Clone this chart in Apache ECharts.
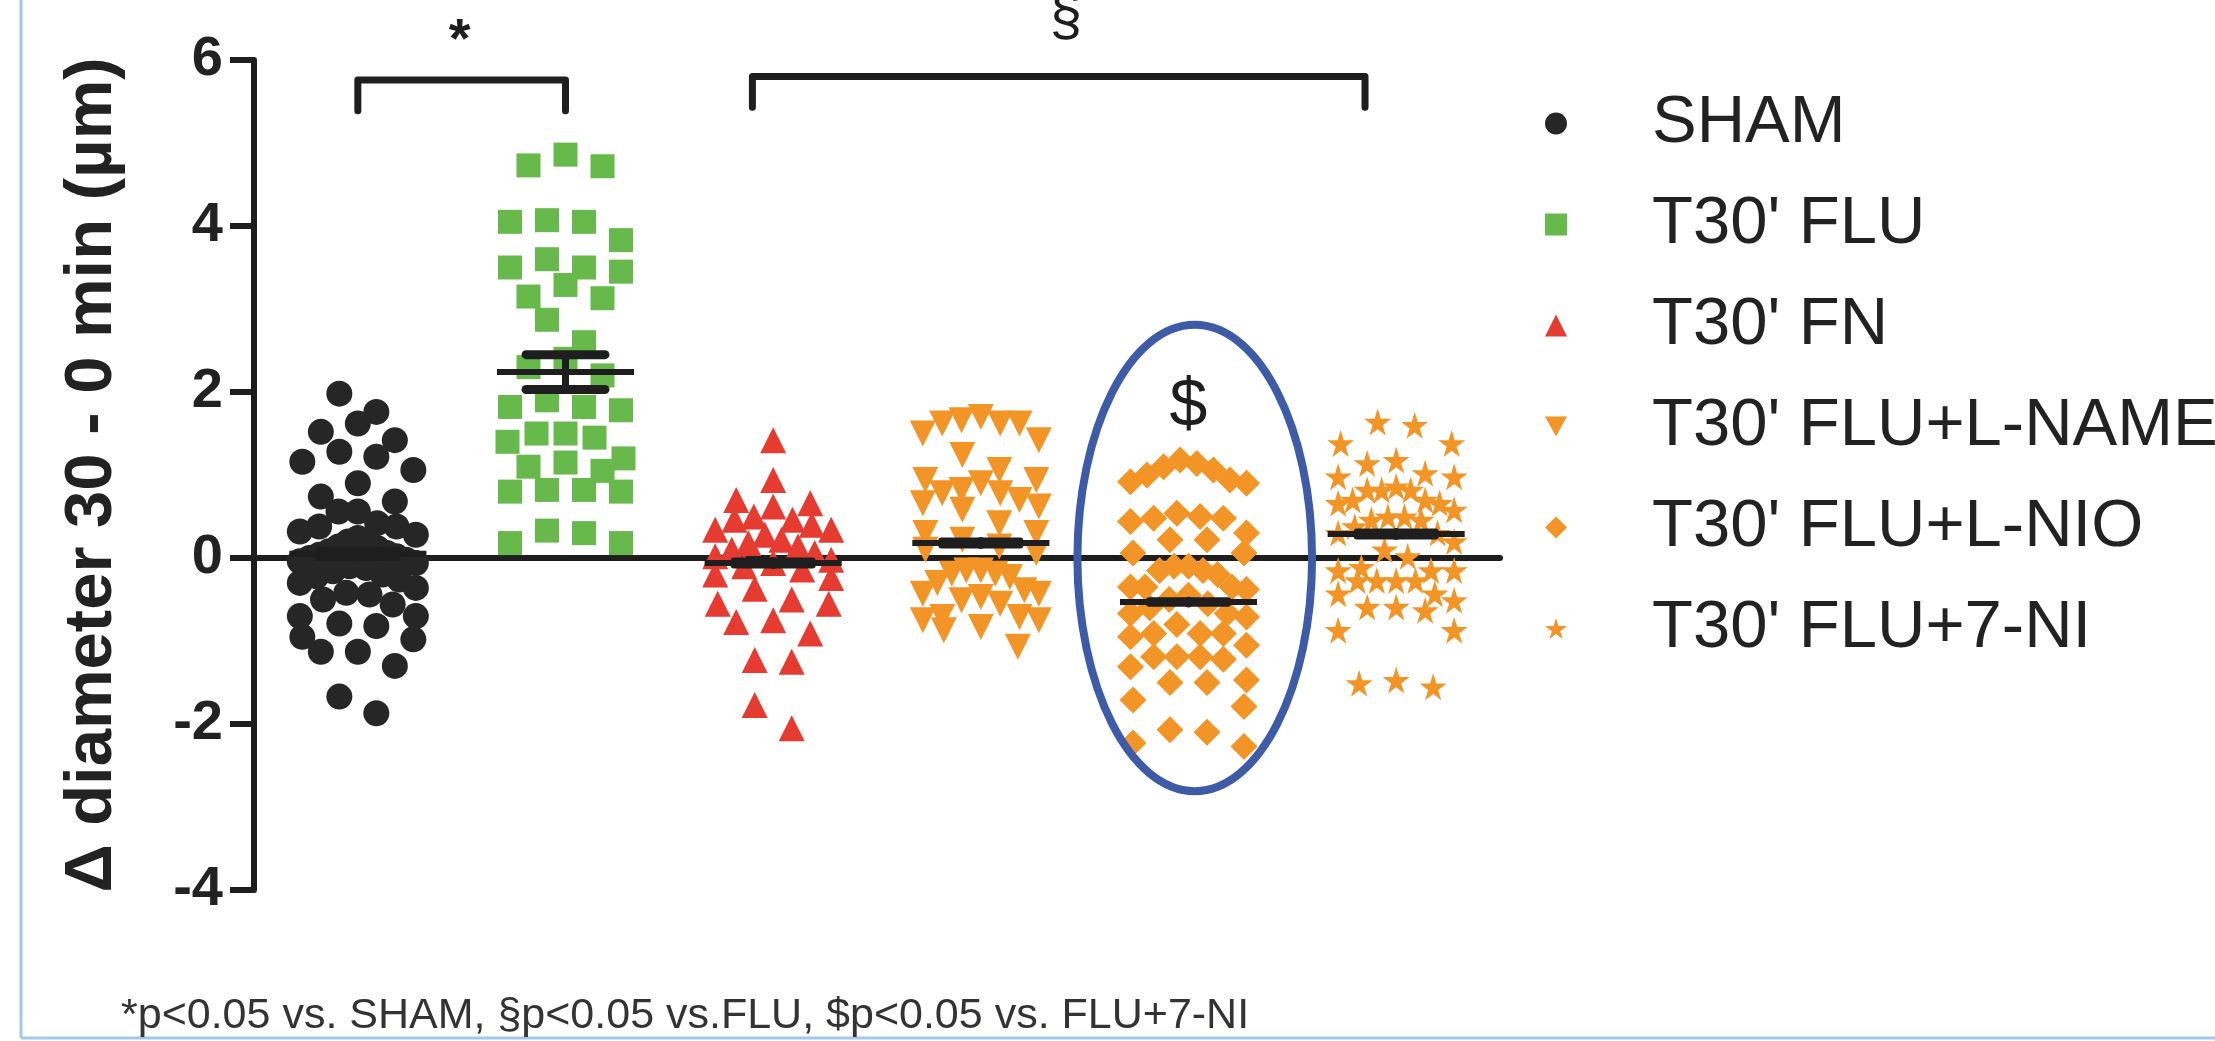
<!DOCTYPE html>
<html>
<head>
<meta charset="utf-8">
<script src="https://cdn.jsdelivr.net/npm/echarts@6/dist/echarts.min.js"></script>
<style>
html, body { margin: 0; padding: 0; background: #fff; }
#chart { width: 2215px; height: 1041px; }
</style>
</head>
<body>
<div id="chart"></div>
<script>
// groups, as in the legend
var groups = ['SHAM', "T30' FLU", "T30' FN", "T30' FLU+L-NAME", "T30' FLU+L-NIO", "T30' FLU+7-NI"];

// individual values (Δ diameter, µm)
var sham = [1.98, 1.76, 1.62, 1.52, 1.42, 1.28, 1.22, 1.16, 1.06, 0.90, 0.74, 0.68, 0.56, 0.56, 0.42, 0.38, 0.38,
  0.32, 0.28, 0.24, 0.20, 0.18, 0.14, 0.12, 0.08, 0.06, 0.04, 0.02, 0.00, -0.02, -0.04, -0.06, -0.10, -0.12,
  -0.16, -0.20, -0.22, -0.26, -0.30, -0.36, -0.42, -0.44, -0.50, -0.56, -0.70, -0.70, -0.79, -0.82, -0.95,
  -0.98, -1.13, -1.13, -1.30, -1.67, -1.87];
var flu = [4.86, 4.73, 4.72, 4.07, 4.05, 4.05, 3.83, 3.60, 3.50, 3.50, 3.45, 3.29, 3.15, 3.13, 2.87, 2.60, 2.40,
  2.30, 2.20, 1.90, 1.82, 1.82, 1.78, 1.50, 1.50, 1.45, 1.40, 1.20, 1.15, 1.10, 1.05, 0.82, 0.82, 0.80, 0.80,
  0.33, 0.30, 0.18, 0.18];
var fn = [1.42, 0.94, 0.70, 0.66, 0.62, 0.50, 0.46, 0.46, 0.40, 0.34, 0.34, 0.28, 0.22, 0.18, 0.14, 0.10, 0.06,
  0.02, -0.02, -0.06, -0.10, -0.14, -0.20, -0.24, -0.37, -0.50, -0.55, -0.55, -0.75, -0.77, -0.91, -1.23,
  -1.25, -1.77, -2.05];
var lname = [1.70, 1.66, 1.62, 1.62, 1.62, 1.50, 1.42, 1.24, 1.06, 0.94, 0.94, 0.90, 0.82, 0.78, 0.78, 0.70,
  0.66, 0.62, 0.58, 0.42, 0.30, 0.30, 0.22, 0.14, 0.10, 0.06, -0.15, -0.15, -0.19, -0.19, -0.23, -0.30, -0.39,
  -0.43, -0.43, -0.47, -0.51, -0.55, -0.71, -0.71, -0.75, -0.75, -0.83, -0.87, -1.07];
var lnio = [1.18, 1.14, 1.10, 1.06, 1.00, 0.94, 0.92, 0.90, 0.54, 0.50, 0.48, 0.48, 0.44, 0.30, 0.22, 0.22,
  0.06, 0.06, -0.10, -0.10, -0.15, -0.15, -0.20, -0.35, -0.35, -0.35, -0.38, -0.45, -0.50, -0.55, -0.60,
  -0.67, -0.67, -0.71, -0.80, -0.91, -0.91, -0.91, -0.95, -1.05, -1.19, -1.19, -1.19, -1.22, -1.31, -1.47,
  -1.50, -1.50, -1.71, -1.79, -2.07, -2.10, -2.23, -2.27];
var ni7 = [1.64, 1.60, 1.38, 1.38, 1.18, 1.14, 1.02, 0.98, 0.98, 0.86, 0.82, 0.82, 0.82, 0.70, 0.70, 0.66, 0.66,
  0.58, 0.50, 0.50, 0.46, 0.46, 0.38, 0.30, 0.30, 0.20, 0.10, 0.02, -0.11, -0.15, -0.15, -0.15, -0.27, -0.27,
  -0.27, -0.27, -0.43, -0.43, -0.51, -0.59, -0.59, -0.63, -0.87, -0.87, -1.47, -1.51, -1.55];

// mean and SEM drawn on each group
var means = [0.05, 2.24, -0.06, 0.18, -0.53, 0.29];
var sems = [0.05, 0.21, 0.03, 0.03, 0.02, 0.03];

// significance marks
var markText = ['*', '\u00a7', '$'];
var markX = [0.99, 3.91, 4.5];
var markY = [6.22, 6.5, 1.82];
var bracketFlu = [[0.5, 5.39], [0.5, 5.76], [1.5, 5.76], [1.5, 5.39]];
var bracketGroups = [[2.4, 5.43], [2.4, 5.8], [5.35, 5.8], [5.35, 5.43]];
var ovalCenter = [4.53, 0.0];
var ovalRadius = [0.565, 2.81];

var footnote = '*p<0.05 vs. SHAM, \u00a7p<0.05 vs.FLU, $p<0.05 vs. FLU+7-NI';

var allValues = [sham, flu, fn, lname, lnio, ni7];
var colors = ['#262626', '#66b94a', '#e53b30', '#f39526', '#f39526', '#f39526'];
var symbols = ['circle', 'rect', 'triangle', 'path://M0,0L10,0L5,9Z', 'diamond',
  'path://M50,0L61,35L98,35L68,57L79,91L50,70L21,91L32,57L2,35L39,35Z'];
var sizes = [26, 24, 26, 26, 27, 27];

var chart = echarts.init(document.getElementById('chart'));

var axesOption = {
  animation: false,
  grid: { left: 254, right: 715, top: 60, bottom: 151, containLabel: false },
  xAxis: [{
    type: 'category',
    data: groups,
    axisLine: { onZero: true, lineStyle: { color: '#1e1e1e', width: 6 } },
    axisTick: { alignWithLabel: true, length: 24, lineStyle: { color: '#1e1e1e', width: 6 } },
    axisLabel: { show: false },
    splitLine: { show: false }
  }, {
    type: 'value', min: 0, max: 6, show: false
  }],
  yAxis: {
    type: 'value', min: -4, max: 6, interval: 2,
    name: '\u0394 diameter 30 - 0 min (\u00b5m)',
    nameLocation: 'middle',
    nameGap: 128,
    nameTextStyle: { fontFamily: 'Liberation Sans', fontWeight: 'bold', fontSize: 67, color: '#222' },
    axisLine: { show: true, onZero: false, lineStyle: { color: '#1e1e1e', width: 6 } },
    axisTick: { show: true, length: 24, lineStyle: { color: '#1e1e1e', width: 6 } },
    axisLabel: { fontFamily: 'Liberation Sans', fontWeight: 'bold', fontSize: 56, color: '#222', margin: 31 },
    splitLine: { show: false }
  }
};
chart.setOption(axesOption);

// pixels per data unit, taken from the axes
var pxX = chart.convertToPixel({ xAxisIndex: 1 }, 1) - chart.convertToPixel({ xAxisIndex: 1 }, 0);
var pxY = chart.convertToPixel({ yAxisIndex: 0 }, 0) - chart.convertToPixel({ yAxisIndex: 0 }, 1);

// Prism-like scatter layout: close values share a row and are spread sideways
function swarm(values, center) {
  var rowH = 25, step = 37, maxHalf = 58;
  var sorted = values.slice().sort(function (a, b) { return b - a; });
  var rows = [], cur = [];
  sorted.forEach(function (v) {
    if (cur.length && (cur[0] - v) * pxY >= rowH) { rows.push(cur); cur = []; }
    cur.push(v);
  });
  if (cur.length) rows.push(cur);
  var pts = [];
  rows.forEach(function (row) {
    var n = row.length;
    var sp = n > 1 ? Math.min(step, 2 * maxHalf / (n - 1)) : 0;
    var offs = [];
    for (var i = 0; i < n; i++) offs.push((i - (n - 1) / 2) * sp);
    offs.sort(function (a, b) { return Math.abs(a) - Math.abs(b) || a - b; });
    row.forEach(function (v, i) { pts.push([center + offs[i] / pxX, v]); });
  });
  return pts;
}

var series = groups.map(function (g, i) {
  return {
    name: g,
    type: 'scatter',
    xAxisIndex: 1,
    symbol: symbols[i],
    symbolSize: sizes[i],
    itemStyle: { color: colors[i], opacity: 1 },
    z: 2,
    data: swarm(allValues[i], i + 0.5)
  };
});

series.push({
  name: 'mean',
  type: 'custom',
  xAxisIndex: 1,
  z: 4,
  data: means.map(function (m, i) { return [i + 0.5, m, sems[i]]; }),
  renderItem: function (params, api) {
    var x = api.value(0), m = api.value(1), s = api.value(2);
    var l = api.coord([x - 0.33, m]), r = api.coord([x + 0.33, m]);
    var t = api.coord([x, m + s]), b = api.coord([x, m - s]);
    var cl = api.coord([x - 0.19, m])[0], cr = api.coord([x + 0.19, m])[0];
    var capW = s > 0.1 ? 9 : 6;
    var st = { stroke: '#1e1e1e', lineWidth: 7, lineCap: 'round' };
    return {
      type: 'group',
      children: [
        { type: 'line', shape: { x1: t[0], y1: t[1], x2: b[0], y2: b[1] }, style: st },
        { type: 'line', shape: { x1: cl, y1: t[1], x2: cr, y2: t[1] }, style: { stroke: '#1e1e1e', lineWidth: capW, lineCap: 'round' } },
        { type: 'line', shape: { x1: cl, y1: b[1], x2: cr, y2: b[1] }, style: { stroke: '#1e1e1e', lineWidth: capW, lineCap: 'round' } },
        { type: 'line', shape: { x1: l[0], y1: l[1], x2: r[0], y2: r[1] }, style: { stroke: '#1e1e1e', lineWidth: 6 } }
      ]
    };
  }
});

[bracketFlu, bracketGroups].forEach(function (br) {
  series.push({
    type: 'line',
    xAxisIndex: 1,
    data: br,
    symbol: 'none',
    silent: true,
    z: 5,
    lineStyle: { color: '#1e1e1e', width: 7, cap: 'round', join: 'round' }
  });
});

series.push({
  type: 'custom',
  xAxisIndex: 1,
  z: 6,
  data: [ovalCenter],
  renderItem: function (params, api) {
    var c = api.coord([api.value(0), api.value(1)]);
    var sz = api.size([ovalRadius[0], ovalRadius[1]]);
    return {
      type: 'ellipse',
      shape: { cx: c[0], cy: c[1], rx: sz[0], ry: sz[1] },
      style: { fill: null, stroke: '#3e5ba8', lineWidth: 8 }
    };
  }
});

series.push({
  type: 'custom',
  xAxisIndex: 1,
  z: 6,
  data: markX.map(function (x, i) { return [x, markY[i]]; }),
  renderItem: function (params, api) {
    var c = api.coord([api.value(0), api.value(1)]);
    var i = params.dataIndex;
    return {
      type: 'text',
      x: c[0], y: c[1],
      style: {
        text: markText[i],
        fontFamily: 'Liberation Sans',
        fontSize: [56, 58, 68][i],
        fontWeight: i === 0 ? 'bold' : 'normal',
        fill: '#1e1e1e',
        align: 'center',
        verticalAlign: 'middle'
      }
    };
  }
});

var option = Object.assign({}, axesOption, {
  legend: {
    data: groups,
    orient: 'vertical',
    left: 1540,
    top: 85,
    itemWidth: 22,
    itemHeight: 22,
    itemGap: 34,
    selectedMode: false,
    textStyle: { fontFamily: 'Liberation Sans', fontSize: 67, lineHeight: 64, color: '#222', padding: [0, 0, 0, 80] }
  },
  title: {
    text: footnote,
    left: 116,
    top: 990,
    textStyle: { fontFamily: 'Liberation Sans', fontWeight: 'normal', fontSize: 43, color: '#333' }
  },
  graphic: [
    { type: 'line', shape: { x1: 21, y1: 0, x2: 21, y2: 1038 }, style: { stroke: '#a3c6ea', lineWidth: 3 } },
    { type: 'line', shape: { x1: 21, y1: 1038, x2: 2215, y2: 1038 }, style: { stroke: '#a3c6ea', lineWidth: 3 } }
  ],
  series: series
});

chart.setOption(option, true);
</script>
</body>
</html>
